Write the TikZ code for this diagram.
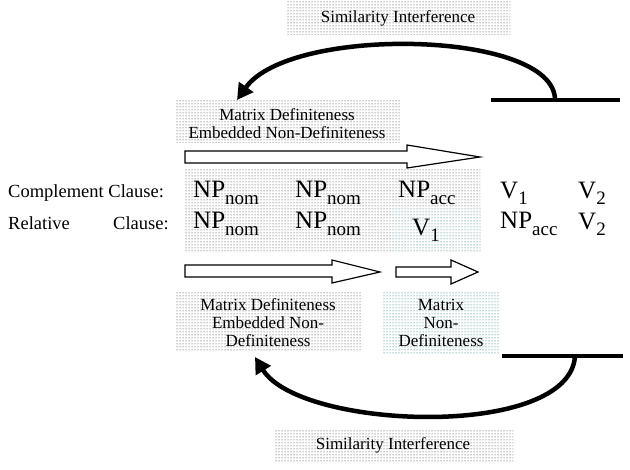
\documentclass[tikz,border=0pt]{standalone}
\usepackage{fontspec}
\setmainfont{Liberation Serif}
\usetikzlibrary{patterns,arrows.meta}
\newcommand\mysub[2][7pt]{\raisebox{-#1}{\fontsize{19}{19}\selectfont #2}}
\begin{document}
\begin{tikzpicture}[x=1pt,y=-1pt,
  gdots/.style={pattern=dots,pattern color=black!85},
  cdots/.style={pattern=dots,pattern color=teal!85!black},
  lbl/.style={font=\fontsize{17}{18}\selectfont,align=center,inner sep=0pt},
  big/.style={font=\fontsize{25}{26}\selectfont,anchor=base west,inner sep=0pt},
  side/.style={font=\fontsize{18.5}{20}\selectfont,anchor=base west,inner sep=0pt},
  hollow/.style={draw=black,line width=1.2pt,fill=white,line join=miter},
  thickbar/.style={line width=4.5pt},
  curvearrow/.style={line width=4.5pt,-{Triangle[length=16pt,width=17pt]}},
]
\useasboundingbox (0,0) rectangle (630,470);
% dotted backgrounds
\fill[gdots] (287,2) rectangle (510,35);
\fill[gdots] (175,100) rectangle (400,143);
\fill[gdots] (185,170) rectangle (480,253);
\fill[white] (393,208) rectangle (480,253);
\fill[cdots] (393,208) rectangle (480,253);
\fill[gdots] (175,292) rectangle (362,352);
\fill[cdots] (383,292) rectangle (500,355);
\fill[gdots] (275,430) rectangle (513,463);

% labels
\node[lbl] (simtop) at (398,18) {Similarity Interference};
\node[lbl] (mdtop) at (287,124) {Matrix Definiteness\\Embedded Non-Definiteness};
\node[lbl] (mdbot) at (268,323) {Matrix Definiteness\\Embedded Non-\\Definiteness};
\node[lbl] (mnd) at (441,323) {Matrix\\Non-\\Definiteness};
\node[lbl] (simbot) at (393,445) {Similarity Interference};

% hollow arrows
\draw[hollow] (185,151) -- (407,151) -- (407,145) -- (480,157) -- (407,168) -- (407,163) -- (185,163) -- cycle;
\draw[hollow] (185,265) -- (332,265) -- (332,260) -- (380,272) -- (332,283) -- (332,277) -- (185,277) -- cycle;
\draw[hollow] (396,267) -- (451,267) -- (451,260) -- (478,272) -- (451,284) -- (451,277) -- (396,277) -- cycle;

% side labels
\node[side] (cc) at (8,198) {Complement Clause:};
\node[side] (rel) at (8,230) {Relative};
\node[side] (rc) at (113,230) {Clause:};

% row 1
\node[big] (a1) at (193,198) {NP\mysub{nom}};
\node[big] (a2) at (295,198) {NP\mysub{nom}};
\node[big] (a3) at (398,198) {NP\mysub{acc}};
\node[big] (a4) at (500,199) {V\mysub[6pt]{1}};
\node[big] (a5) at (578,199) {V\mysub[6pt]{2}};
% row 2
\node[big] (b1) at (193,229) {NP\mysub{nom}};
\node[big] (b2) at (295,229) {NP\mysub{nom}};
\node[big] (b3) at (412,236) {V\mysub[6pt]{1}};
\node[big] (b4) at (500,229) {NP\mysub{acc}};
\node[big] (b5) at (578,230) {V\mysub[6pt]{2}};

% thick bars
\coordinate (tbl) at (491,100);
\coordinate (tbr) at (620,100);
\coordinate (tbs) at (555,100);
\draw[thickbar] (tbl) -- (tbr);
\coordinate (bbl) at (502,356);
\coordinate (bbr) at (623,356);
\coordinate (bbs) at (575,356);
\draw[thickbar] (bbl) -- (bbr);

% curved arrows
\coordinate (tend) at (237,100);
\coordinate (bend2) at (255,357);
\draw[curvearrow] (tbs) .. controls (555,30) and (290,25) .. (tend);
\draw[curvearrow] (bbs) .. controls (570,440) and (300,430) .. (bend2);
\end{tikzpicture}
\end{document}
